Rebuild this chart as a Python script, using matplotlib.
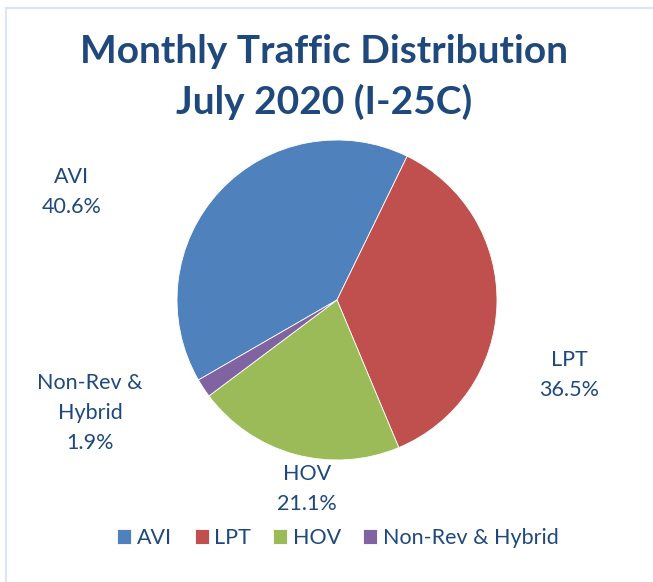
import matplotlib
matplotlib.use("Agg")
import matplotlib.pyplot as plt
from matplotlib.lines import Line2D

categories = ["AVI", "LPT", "HOV", "Non-Rev & Hybrid"]
label_names = ["AVI", "LPT", "HOV", "Non-Rev &\nHybrid"]
values = [40.6, 36.5, 21.1, 1.9]
colors = ["#4F81BD", "#C0504D", "#9BBB59", "#8064A2"]
title_lines = "Monthly Traffic Distribution\nJuly 2020 (I-25C)"

W, H = 653, 582
TXT = "#1F497D"
FONT = ["Lato", "DejaVu Sans"]
plt.rcParams['font.family'] = FONT

fig = plt.figure(figsize=(W / 100, H / 100), dpi=100)
fig.patch.set_facecolor("white")

def px(x, y):
    return x / W, 1 - y / H

# chart area border (left and top visible)
fig.add_artist(Line2D([6 / W, 6 / W], [0, 1 - 8 / H], color="#DCE6F2", lw=1.5, transform=fig.transFigure))
fig.add_artist(Line2D([6 / W, 1], [1 - 8 / H, 1 - 8 / H], color="#DCE6F2", lw=1.5, transform=fig.transFigure))

# title
fig.text(*px(324, 77), title_lines, ha="center", va="center", fontsize=28,
         fontweight="bold", color=TXT, linespacing=1.5)

cx, cy, r = 337, 300, 160
ax = fig.add_axes([(cx - r) / W, (H - cy - r) / H, 2 * r / W, 2 * r / H])
wedges, _ = ax.pie(values, colors=colors, startangle=210, counterclock=False,
                   wedgeprops=dict(edgecolor="white", linewidth=0.6))
ax.set_xlim(-1, 1)
ax.set_ylim(-1, 1)
ax.set_aspect("equal")
ax.axis("off")

# data labels
label_pos = [(72, 192), (569, 375), (307, 489), (90, 413)]
for name, v, (x, y) in zip(label_names, values, label_pos):
    fig.text(*px(x, y), f"{name}\n{v:.1f}%", ha="center", va="center",
             fontsize=15.5, color=TXT, linespacing=1.6)

leg = fig.legend(wedges, categories, loc="center", bbox_to_anchor=px(338, 538),
                 ncol=4, frameon=False, fontsize=15.5, labelcolor=TXT,
                 handlelength=0.65, handleheight=0.65, handletextpad=0.25,
                 columnspacing=1.05)

fig.savefig("out.png", dpi=100)
